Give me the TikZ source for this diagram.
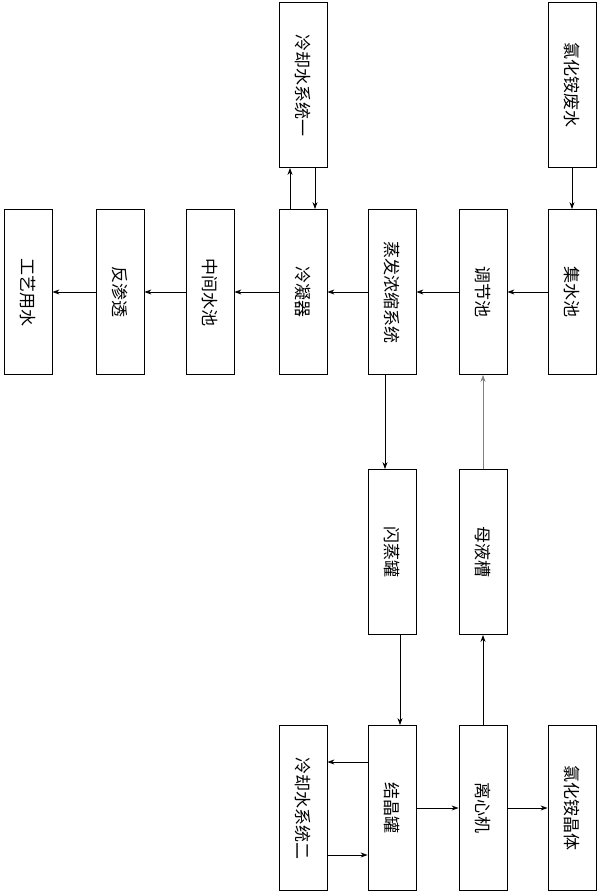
\documentclass[tikz,border=0pt]{standalone}
\usepackage{fontspec}
\setmainfont{Noto Sans CJK SC}
\usetikzlibrary{arrows.meta}
\begin{document}
\begin{tikzpicture}[x=1pt,y=-1pt,
 bx/.style={draw,line width=0.8pt,minimum width=165pt,minimum height=48pt,rotate=-90,font=\fontsize{17}{17}\selectfont,inner sep=0pt},
 ar/.style={-{Stealth[length=7pt,width=5pt]},line width=0.8pt}]
\useasboundingbox (0,0) rectangle (600,895);
\node[bx] (fs) at (572,85) {氯化铵废水};
\node[bx] (jsc) at (572,292) {集水池};
\node[bx] (tjc) at (483,292) {调节池};
\node[bx] (zf) at (392,292) {蒸发浓缩系统};
\node[bx] (lnq) at (303,292) {冷凝器};
\node[bx] (zj) at (210,292) {中间水池};
\node[bx] (fst) at (120,292) {反渗透};
\node[bx] (gy) at (28,292) {工艺用水};
\node[bx] (lq1) at (303,85) {冷却水系统一};
\node[bx] (sz) at (392,552) {闪蒸罐};
\node[bx] (my) at (483,552) {母液槽};
\node[bx] (jj) at (392,808) {结晶罐};
\node[bx] (lx) at (483,808) {离心机};
\node[bx] (jt) at (572,808) {氯化铵晶体};
\node[bx] (lq2) at (303,808) {冷却水系统二};
\draw[ar] (fs) -- (jsc);
\draw[ar] (jsc) -- (tjc);
\draw[ar] (tjc) -- (zf);
\draw[ar] (zf) -- (lnq);
\draw[ar] (lnq) -- (zj);
\draw[ar] (zj) -- (fst);
\draw[ar] (fst) -- (gy);
\draw[ar] (lnq.west -| 290,0) -- (lq1.east -| 290,0);
\draw[ar] (lq1.east -| 315,0) -- (lnq.west -| 315,0);
\draw[ar] (zf.east -| 385,0) -- (sz.west -| 385,0);
\draw[ar] (sz.east -| 400,0) -- (jj.west -| 400,0);
\draw[ar] (jj) -- (lx);
\draw[ar] (lx) -- (jt);
\draw[ar] (lx) -- (my);
\draw[ar,gray,line width=0.5pt] (my) -- (tjc);
\draw[ar] (jj.south |- 0,762) -- (lq2.north |- 0,762);
\draw[ar] (lq2.north |- 0,855) -- (jj.south |- 0,855);
\end{tikzpicture}
\end{document}
